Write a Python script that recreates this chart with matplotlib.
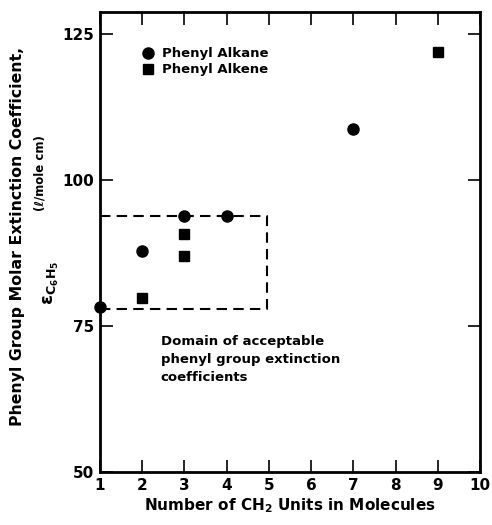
import matplotlib
matplotlib.use("Agg")
import matplotlib.pyplot as plt

plt.rcParams['font.family'] = ['DejaVu Sans']
plt.rcParams['font.weight'] = 'bold'
plt.rcParams['mathtext.fontset'] = 'custom'
plt.rcParams['mathtext.rm'] = 'DejaVu Sans:bold'
plt.rcParams['mathtext.it'] = 'DejaVu Sans:bold'
plt.rcParams['mathtext.bf'] = 'DejaVu Sans:bold'
plt.rcParams['mathtext.default'] = 'regular'

# Data
alkane_x = [1, 2, 3, 4, 7]
alkane_y = [78.2, 87.9, 93.9, 93.9, 108.8]
alkene_x = [2, 3, 3, 9]
alkene_y = [79.8, 87.0, 90.8, 121.9]

# Domain box (x range, y range)
box_x = [1, 4.95]
box_y = [77.9, 93.9]

x_ticks = [1, 2, 3, 4, 5, 6, 7, 8, 9, 10]
y_ticks = [50, 75, 100, 125]

fig = plt.figure(figsize=(4.92, 5.25), dpi=100)
ax = fig.add_axes([100/492, 53/525, 380/492, 460/525])

ax.plot([box_x[0], box_x[1], box_x[1], box_x[0]],
        [box_y[1], box_y[1], box_y[0], box_y[0]],
        color='black', lw=1.5, ls=(0, (5, 3)), clip_on=False, zorder=2)

ax.plot(alkane_x, alkane_y, 'o', color='black', ms=8, clip_on=False,
        zorder=3, label='Phenyl Alkane')
ax.plot(alkene_x, alkene_y, 's', color='black', ms=7, clip_on=False,
        zorder=3, label='Phenyl Alkene')

ax.set_xlim(1, 10)
ax.set_ylim(50, 128.8)
ax.set_xticks(x_ticks)
ax.set_yticks(y_ticks)
ax.set_xticklabels([str(v) for v in x_ticks])
ax.set_yticklabels([str(v) for v in y_ticks])
ax.tick_params(direction='in', length=9, width=1.2, top=True, right=True,
               labelsize=11, pad=4)
for s in ax.spines.values():
    s.set_linewidth(2)

ax.set_xlabel('Number of CH$_2$ Units in Molecules', fontsize=11,
              fontweight='bold', labelpad=3)

fig.text(18/492, 1 - 236/525, 'Phenyl Group Molar Extinction Coefficient,',
         rotation=90, ha='center', va='center', fontsize=11.3,
         fontweight='bold')
fig.text(51/492, 1 - 283/525, r'$\epsilon_{C_6H_5}$', rotation=90,
         ha='center', va='center', fontsize=13)
fig.text(40/492, 1 - 173/525, '(ℓ/mole cm)', rotation=90,
         ha='center', va='center', fontsize=8.5, fontweight='bold')

ax.legend(loc='upper left', bbox_to_anchor=(0.095, 0.935), frameon=False,
          handletextpad=0.6, borderaxespad=0, labelspacing=0.25,
          handlelength=1.0, prop={'size': 9.5, 'weight': 'bold'})

ax.text(0.16, 0.297, 'Domain of acceptable\nphenyl group extinction\ncoefficients',
        transform=ax.transAxes, ha='left', va='top', fontsize=9.5,
        fontweight='bold', linespacing=1.5)

fig.savefig('out.png', dpi=100)
